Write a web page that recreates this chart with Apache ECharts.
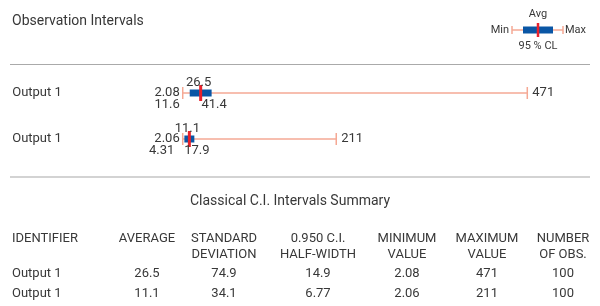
<!DOCTYPE html>
<html>
<head>
<meta charset="utf-8">
<script src="https://cdn.jsdelivr.net/npm/echarts@6/dist/echarts.min.js"></script>
<style>html,body{margin:0;padding:0;background:#fff}#c{width:600px;height:306px}</style>
</head>
<body>
<div id="c"></div>
<script>
const categories = ['Output 1', 'Output 1'];
const avgVals = [26.5, 11.1];
const stdDevVals = [74.9, 34.1];
const halfWidthVals = [14.9, 6.77];
const minVals = [2.08, 2.06];
const maxVals = [471, 211];
const ciLowVals = [11.6, 4.31];
const ciHighVals = [41.4, 17.9];
const nObsVals = [100, 100];
const headerTop = ['IDENTIFIER', 'AVERAGE', 'STANDARD', '0.950 C.I.', 'MINIMUM', 'MAXIMUM', 'NUMBER'];
const headerBottom = ['', '', 'DEVIATION', 'HALF-WIDTH', 'VALUE', 'VALUE', 'OF OBS.'];

const FONT = 'Roboto';
const TXT = '#383838';
const WHISKER = '#F5A894';
const BOX = '#0A56A5';
const AVG = '#E8212C';

const chart = echarts.init(document.getElementById('c'), null, {renderer: 'canvas'});

const seriesData = categories.map((c, i) => [i, minVals[i], ciLowVals[i], avgVals[i], ciHighVals[i], maxVals[i]]);

function fmt(v) { return String(v); }

function renderItem(params, api) {
  const y = api.value(0);
  const pMin = api.coord([api.value(1), y]);
  const pLo = api.coord([api.value(2), y]);
  const pAvg = api.coord([api.value(3), y]);
  const pHi = api.coord([api.value(4), y]);
  const pMax = api.coord([api.value(5), y]);
  const cy = pMin[1];
  const ts = {fontFamily: FONT, fontSize: 13, fill: TXT, verticalAlign: 'middle'};
  return {
    type: 'group',
    children: [
      {type: 'line', shape: {x1: pMin[0], y1: cy, x2: pMax[0], y2: cy}, style: {stroke: WHISKER, lineWidth: 1.5}},
      {type: 'line', shape: {x1: pMin[0], y1: cy - 6, x2: pMin[0], y2: cy + 6}, style: {stroke: WHISKER, lineWidth: 1.5}},
      {type: 'line', shape: {x1: pMax[0], y1: cy - 6, x2: pMax[0], y2: cy + 6}, style: {stroke: WHISKER, lineWidth: 1.5}},
      {type: 'rect', shape: {x: pLo[0], y: cy - 3.5, width: pHi[0] - pLo[0], height: 7}, style: {fill: BOX}},
      {type: 'line', shape: {x1: pAvg[0], y1: cy - 8, x2: pAvg[0], y2: cy + 8}, style: {stroke: AVG, lineWidth: 3}},
      {type: 'text', x: pAvg[0] - 2, y: cy - 10, style: Object.assign({}, ts, {text: fmt(api.value(3)), align: 'center'})},
      {type: 'text', x: pMin[0] - 3, y: cy, style: Object.assign({}, ts, {text: fmt(api.value(1)), align: 'right'})},
      {type: 'text', x: pLo[0] - 10, y: cy + 12, style: Object.assign({}, ts, {text: fmt(api.value(2)), align: 'right'})},
      {type: 'text', x: pHi[0] + 2.5, y: cy + 12, style: Object.assign({}, ts, {text: fmt(api.value(4)), align: 'center'})},
      {type: 'text', x: pMax[0] + 5, y: cy, style: Object.assign({}, ts, {text: fmt(api.value(5)), align: 'left'})}
    ]
  };
}

// table graphics built from data arrays
const colX = [12, 147, 224, 318, 407, 487, 563];
const tableEls = [];
headerTop.forEach((h, j) => {
  const align = j === 0 ? 'left' : 'center';
  tableEls.push({type: 'text', x: colX[j], y: 238.5, style: {text: h, fontFamily: FONT, fontSize: 13, fill: TXT, align: align, verticalAlign: 'middle'}});
  if (headerBottom[j]) tableEls.push({type: 'text', x: colX[j], y: 254.5, style: {text: headerBottom[j], fontFamily: FONT, fontSize: 13, fill: TXT, align: align, verticalAlign: 'middle'}});
});
categories.forEach((c, i) => {
  const rowY = 273.5 + i * 20;
  const vals = [c, avgVals[i], stdDevVals[i], halfWidthVals[i], minVals[i], maxVals[i], nObsVals[i]];
  vals.forEach((v, j) => {
    tableEls.push({type: 'text', x: colX[j], y: rowY, style: {text: fmt(v), fontFamily: FONT, fontSize: 13, fill: TXT, align: j === 0 ? 'left' : 'center', verticalAlign: 'middle'}});
  });
});

// legend key (static)
const legendEls = [
  {type: 'text', x: 538, y: 14, style: {text: 'Avg', fontFamily: FONT, fontSize: 11, fill: TXT, align: 'center', verticalAlign: 'middle'}},
  {type: 'text', x: 509, y: 30, style: {text: 'Min', fontFamily: FONT, fontSize: 11, fill: TXT, align: 'right', verticalAlign: 'middle'}},
  {type: 'text', x: 565, y: 30, style: {text: 'Max', fontFamily: FONT, fontSize: 11, fill: TXT, align: 'left', verticalAlign: 'middle'}},
  {type: 'text', x: 538, y: 46, style: {text: '95 % CL', fontFamily: FONT, fontSize: 11, fill: TXT, align: 'center', verticalAlign: 'middle'}},
  {type: 'line', shape: {x1: 512, y1: 30, x2: 563, y2: 30}, style: {stroke: WHISKER, lineWidth: 1.5}},
  {type: 'line', shape: {x1: 512, y1: 26, x2: 512, y2: 34}, style: {stroke: WHISKER, lineWidth: 1.5}},
  {type: 'line', shape: {x1: 563, y1: 26, x2: 563, y2: 34}, style: {stroke: WHISKER, lineWidth: 1.5}},
  {type: 'rect', shape: {x: 523, y: 26.5, width: 30, height: 7}, style: {fill: BOX}},
  {type: 'line', shape: {x1: 538, y1: 23, x2: 538, y2: 37}, style: {stroke: AVG, lineWidth: 2.5}}
];

const option = {
  animation: false,
  backgroundColor: '#fff',
  textStyle: {fontFamily: FONT},
  grid: {left: 181.2, right: 51.4, top: 70, height: 92, containLabel: false},
  xAxis: {type: 'value', min: 0, max: 500, show: false},
  yAxis: {
    type: 'category', data: categories, inverse: true,
    axisLine: {show: false}, axisTick: {show: false}, splitLine: {show: false},
    axisLabel: {align: 'left', margin: 169, fontFamily: FONT, fontSize: 13, color: TXT, padding: [3, 0, 0, 0]}
  },
  graphic: [
    {type: 'text', x: 12, y: 21, style: {text: 'Observation Intervals', fontFamily: FONT, fontSize: 14, fill: TXT, verticalAlign: 'middle'}},
    {type: 'line', shape: {x1: 10, y1: 64.5, x2: 590, y2: 64.5}, style: {stroke: '#aaa', lineWidth: 1}},
    {type: 'line', shape: {x1: 10, y1: 177, x2: 590, y2: 177}, style: {stroke: '#d3d3d3', lineWidth: 2}},
    {type: 'text', x: 290, y: 201, style: {text: 'Classical C.I. Intervals Summary', fontFamily: FONT, fontSize: 14, fill: TXT, align: 'center', verticalAlign: 'middle'}}
  ].concat(legendEls, tableEls),
  series: [{
    type: 'custom',
    renderItem: renderItem,
    encode: {x: [1, 2, 3, 4, 5], y: 0},
    data: seriesData
  }]
};
chart.setOption(option);
</script>
</body>
</html>
